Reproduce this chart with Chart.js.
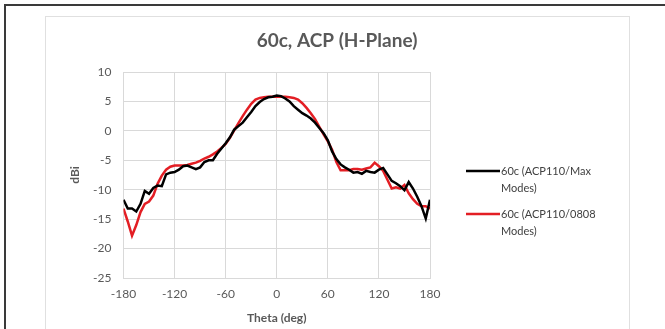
<!DOCTYPE html>
<html lang="en">
<head>
<meta charset="UTF-8">
<title>60c, ACP (H-Plane)</title>
<script src="https://cdn.jsdelivr.net/npm/chart.js"></script>
<style>
  html, body {
    margin: 0;
    background: #fff;
    overflow: hidden;
  }
  body {
    width: 665px;
    height: 329px;
    position: relative;
  }
  .cadre {
    position: absolute;
    left: 4px;
    top: 4px;
    width: 700px;
    height: 400px;
    border-left: 2px solid #3a3a3a;
    border-top: 2px solid #3a3a3a;
  }
  .zone {
    position: absolute;
    left: 45px;
    top: 16px;
    width: 583px;
    height: 400px;
    border: 1px solid #e0e0e0;
  }
  #graphique {
    position: absolute;
    left: 45px;
    top: 16px;
  }
</style>
</head>
<body>
<div class="cadre"></div>
<div class="zone"></div>
<canvas id="graphique" width="584" height="313"></canvas>

<script>
// angles (deg), pas de 5
const theta = [];
for (let a = -180; a <= 180; a += 5) theta.push(a);

const maxModes = [
  -11.7, -13.2, -13.2, -13.7, -12.4, -10.2, -10.7, -9.7, -9.3, -9.4,
  -7.4, -7.1, -7.0, -6.6, -6.0, -5.9, -6.2, -6.5, -6.2, -5.3,
  -5.0, -5.0, -3.9, -3.0, -2.1, -1.1, 0.2, 0.8, 1.4, 2.3,
  3.2, 4.2, 4.9, 5.4, 5.7, 5.8, 6.0, 5.9, 5.5, 5.0,
  4.2, 3.6, 3.0, 2.6, 2.1, 1.4, 0.5, -0.4, -1.6, -3.5,
  -4.8, -5.7, -6.2, -6.6, -7.1, -7.0, -7.3, -6.8, -7.0, -7.1,
  -6.6, -6.3, -7.4, -8.5, -8.9, -9.4, -10.1, -8.7, -9.8, -11.2,
  -12.8, -14.9, -11.7
];

const modes0808 = [
  -13.2, -15.4, -17.8, -16.0, -13.8, -12.4, -12.0, -11.0, -9.0, -7.6,
  -6.6, -6.1, -5.9, -5.9, -5.9, -5.8, -5.6, -5.4, -5.1, -4.7,
  -4.4, -4.0, -3.5, -2.9, -2.2, -1.2, 0.1, 1.3, 2.5, 3.6,
  4.6, 5.3, 5.6, 5.7, 5.8, 5.8, 5.8, 5.8, 5.8, 5.7,
  5.6, 5.3, 4.7, 3.9, 3.0, 2.0, 0.7, -0.6, -1.8, -3.2,
  -5.3, -6.7, -6.7, -6.7, -6.5, -6.5, -6.6, -6.4, -6.2, -5.4,
  -6.0, -6.8, -8.3, -9.8, -9.6, -9.8, -9.2, -10.6, -11.6, -12.4,
  -12.8, -12.8, -13.2
];

const series = [
  {label: ['60c (ACP110/Max', 'Modes)'], data: maxModes, couleur: '#000000'},
  {label: ['60c (ACP110/0808', 'Modes)'], data: modes0808, couleur: '#e31e24'}
];

const titre = '60c, ACP (H-Plane)';
const gris = '#595959';
const grille = '#d9d9d9';
const police = 'Lato, "Open Sans", sans-serif';

// titre centré sur toute la zone (pas seulement sur le graphique)
const titreCentre = {
  id: 'titreCentre',
  afterDraw(chart) {
    const ctx = chart.ctx;
    ctx.save();
    ctx.font = 'bold 19px ' + police;
    ctx.fillStyle = gris;
    ctx.textAlign = 'center';
    ctx.textBaseline = 'middle';
    ctx.fillText(titre, chart.width / 2, 25);
    ctx.restore();
  }
};

// légende à droite, texte sur deux lignes
const legendeDroite = {
  id: 'legendeDroite',
  afterDraw(chart) {
    const ctx = chart.ctx;
    ctx.save();
    ctx.font = '11px ' + police;
    ctx.fillStyle = '#404040';
    ctx.textBaseline = 'middle';
    chart.data.datasets.forEach(function (ds, i) {
      const y = 155 + i * 43;
      ctx.strokeStyle = ds.borderColor;
      ctx.lineWidth = 2.5;
      ctx.beginPath();
      ctx.moveTo(421, y);
      ctx.lineTo(455, y);
      ctx.stroke();
      ds.label.forEach(function (ligne, k) {
        ctx.fillText(ligne, 456, y + k * 17);
      });
    });
    ctx.restore();
  }
};

new Chart(document.getElementById('graphique'), {
  type: 'line',
  data: {
    datasets: series.map(function (s) {
      return {
        label: s.label,
        data: theta.map(function (t, i) { return {x: t, y: s.data[i]}; }),
        borderColor: s.couleur,
        backgroundColor: s.couleur,
        borderWidth: 2.5,
        pointRadius: 0,
        tension: 0
      };
    })
  },
  options: {
    responsive: false,
    animation: false,
    layout: {padding: {left: 0, right: 199, top: 56, bottom: 0}},
    plugins: {
      legend: {display: false},
      tooltip: {enabled: false},
      title: {display: false}
    },
    scales: {
      x: {
        type: 'linear',
        min: -180,
        max: 180,
        afterFit: function (s) { s.height = 51; },
        ticks: {stepSize: 60, color: gris, padding: 9, font: {family: police, size: 12}},
        grid: {color: grille, drawTicks: false},
        border: {color: grille},
        title: {display: true, text: 'Theta (deg)', color: gris,
                font: {family: police, size: 12, weight: 'bold'},
                padding: {top: 4, bottom: 4}}
      },
      y: {
        min: -25,
        max: 10,
        afterFit: function (s) { s.width = 78.5; },
        ticks: {stepSize: 5, color: gris, padding: 12, font: {family: police, size: 12}},
        grid: {color: grille, drawTicks: false},
        border: {color: grille},
        title: {display: true, text: 'dBi', color: gris,
                font: {family: police, size: 12, weight: 'bold'},
                padding: {top: 23, bottom: 0}}
      }
    }
  },
  plugins: [titreCentre, legendeDroite]
});
</script>
</body>
</html>
